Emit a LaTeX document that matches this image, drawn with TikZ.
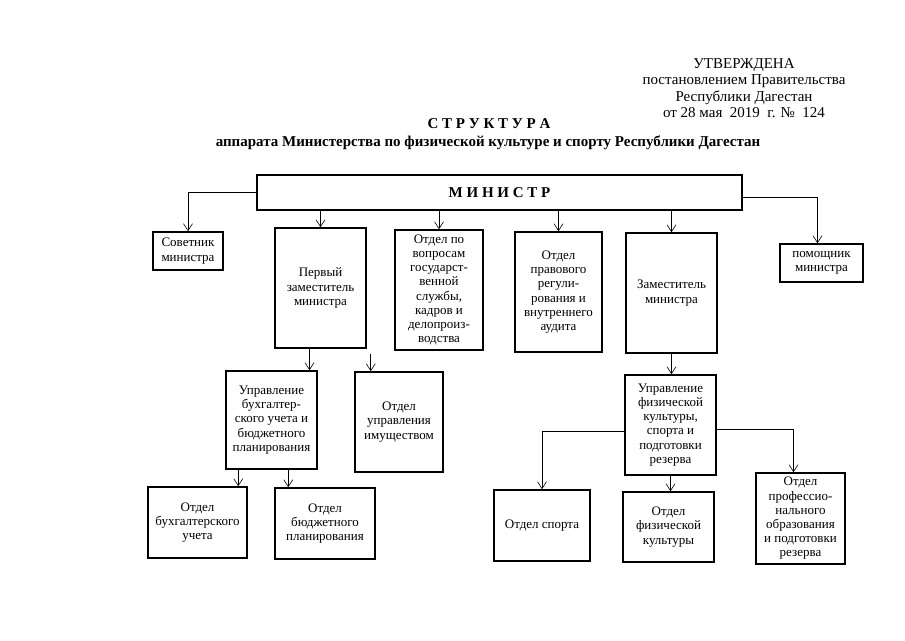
\documentclass[tikz,border=0pt]{standalone}
\usepackage{fontspec}
\setmainfont{Liberation Serif}
\usetikzlibrary{arrows.meta}
\begin{document}
\begin{tikzpicture}[x=1pt, y=-1pt,
	box/.style={draw, line width=1.5pt, align=center, inner sep=1pt, font=\fontsize{13}{14.2}\selectfont},
	arr/.style={line width=0.6pt, -{Straight Barb[length=7pt,width=9pt]}}]
		\useasboundingbox (0,0) rectangle (905,640);
		\node[align=center, font=\fontsize{15}{16.4}\selectfont] (utv) at (744,88) {УТВЕРЖДЕНА\\постановлением Правительства\\Республики Дагестан\\от 28 мая\ \ 2019\ \ г. №\ \ 124};
		\node[font=\bfseries\fontsize{15}{17}\selectfont] (struct) at (489,124) {С Т Р У К Т У Р А};
		\node[font=\bfseries\fontsize{15}{17}\selectfont] (apparat) at (488,143) {аппарата Министерства по физической культуре и спорту Республики Дагестан};
		\node[box, minimum width=485pt, minimum height=35pt, font=\bfseries\fontsize{15}{17}\selectfont] (minister) at (499.5,192.5) {М И Н И С Т Р};
		\node[box, minimum width=70pt, minimum height=38pt] (sovet) at (188,251) {Советник\\министра};
		\node[box, minimum width=91pt, minimum height=120pt] (perv) at (320.5,288) {Первый\\заместитель\\министра};
		\node[box, minimum width=88pt, minimum height=120pt] (kadr) at (439,290) {Отдел по\\вопросам\\государст-\\венной\\службы,\\кадров и\\делопроиз-\\водства};
		\node[box, minimum width=87pt, minimum height=120pt] (pravo) at (558.5,292) {Отдел\\правового\\регули-\\рования и\\внутреннего\\аудита};
		\node[box, minimum width=91pt, minimum height=120pt] (zam) at (671.5,293) {Заместитель\\министра};
		\node[box, minimum width=83pt, minimum height=38pt] (pomosh) at (821.5,263) {помощник\\министра};
		\node[box, minimum width=91pt, minimum height=98pt] (buh) at (271.5,420) {Управление\\бухгалтер-\\ского учета и\\бюджетного\\планирования};
		\node[box, minimum width=88pt, minimum height=100pt] (imush) at (399,422) {Отдел\\управления\\имуществом};
		\node[box, minimum width=99pt, minimum height=71pt] (otbuh) at (197.5,522.5) {Отдел\\бухгалтерского\\учета};
		\node[box, minimum width=100pt, minimum height=71pt] (otbud) at (325,523.5) {Отдел\\бюджетного\\планирования};
		\node[box, minimum width=91pt, minimum height=100pt] (upfiz) at (670.5,425) {Управление\\физической\\культуры,\\спорта и\\подготовки\\резерва};
		\node[box, minimum width=96pt, minimum height=71pt] (sport) at (542,525.5) {Отдел спорта};
		\node[box, minimum width=91pt, minimum height=70pt] (fiz) at (668.5,527) {Отдел\\физической\\культуры};
		\node[box, minimum width=89pt, minimum height=91pt] (prof) at (800.5,518.5) {Отдел\\профессио-\\нального\\образования\\и подготовки\\резерва};
		\draw[arr] (minister.west) -| (sovet.north);
		\draw[arr] ([yshift=-5pt]minister.east) -| ([xshift=-4pt]pomosh.north);
		\foreach \n in {perv,kadr,pravo,zam}
			\draw[arr] (minister.south -| \n.north) -- (\n.north);
		\draw[arr] ([xshift=-11pt]perv.south) -- ([xshift=-11pt]perv.south |- buh.north);
		\coordinate (imtop) at ([xshift=4pt,yshift=-5pt]perv.south east);
		\draw[arr] (imtop) -- (imtop |- imush.north);
		\draw[arr] ([xshift=13pt]buh.south west) -- ([xshift=13pt]buh.south west |- otbuh.north);
		\draw[arr] ([xshift=14pt]otbud.north west |- buh.south) -- ([xshift=14pt]otbud.north west);
		\draw[arr] (zam.south) -- (zam.south |- upfiz.north);
		\draw[arr] ([yshift=-6pt]upfiz.west) -| (sport.north);
		\draw[arr] ([yshift=-4pt]upfiz.east) -| ([xshift=-7pt]prof.north);
		\draw[arr] (upfiz.south) -- (upfiz.south |- fiz.north);
	\end{tikzpicture}
\end{document}
